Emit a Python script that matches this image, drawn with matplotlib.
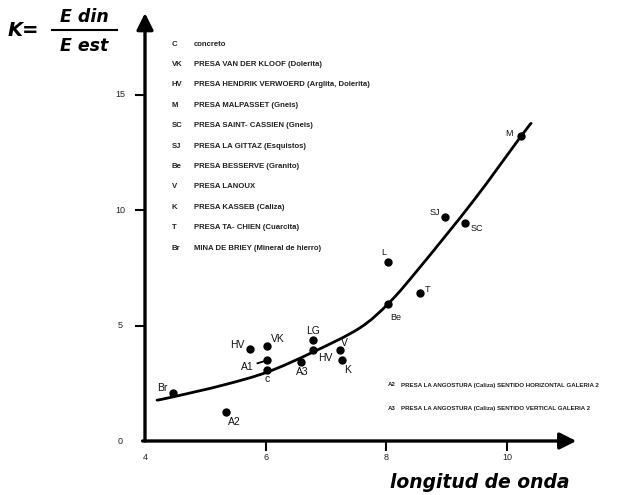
import matplotlib
matplotlib.use("Agg")
import matplotlib.pyplot as plt
from matplotlib.path import Path
from matplotlib.patches import PathPatch

# ---- data ----
codes = ["Br", "A2", "HV", "VK", "A1", "c", "A3", "LG", "HV", "V", "K",
         "Be", "T", "L", "SJ", "SC", "M"]
wave = [4.46, 5.34, 5.74, 6.03, 6.03, 6.03, 6.58, 6.78, 6.78, 7.24, 7.26,
        8.03, 8.56, 8.03, 8.98, 9.31, 10.23]
kval = [2.08, 1.26, 3.98, 4.11, 3.50, 3.07, 3.42, 4.37, 3.94, 3.94, 3.50,
        5.93, 6.40, 7.75, 9.70, 9.44, 13.2]

curve_x = [4.2, 4.46, 5.29, 6.03, 6.78, 7.56, 8.06, 8.56, 9.44, 10.23, 10.4]
curve_y = [1.77, 1.91, 2.42, 2.99, 3.85, 4.90, 6.03, 7.54, 10.40, 13.2, 13.77]

xticks = [4, 6, 8, 10]
yticks = [0, 5, 10, 15]

legend_codes = ["C", "VK", "HV", "M", "SC", "SJ", "Be", "V", "K", "T", "Br"]
legend_names = ["concreto",
                "PRESA VAN DER KLOOF (Dolerita)",
                "PRESA HENDRIK VERWOERD (Arglita, Dolerita)",
                "PRESA MALPASSET (Gneis)",
                "PRESA SAINT- CASSIEN (Gneis)",
                "PRESA LA GITTAZ (Esquistos)",
                "PRESA BESSERVE (Granito)",
                "PRESA LANOUX",
                "PRESA KASSEB (Caliza)",
                "PRESA TA- CHIEN (Cuarcita)",
                "MINA DE BRIEY (Mineral de hierro)"]
a_codes = ["A2", "A3"]
a_names = ["PRESA LA ANGOSTURA (Caliza) SENTIDO HORIZONTAL GALERIA 2",
           "PRESA LA ANGOSTURA (Caliza) SENTIDO VERTICAL GALERIA 2"]

# ---- figure ----
W, H = 623, 495
fig = plt.figure(figsize=(W / 100, H / 100), dpi=100)
px_x0, sx = 145, 60.33
px_y0, sy = 441, 23.07
right_px, top_px = 610, 5
ax = fig.add_axes([px_x0 / W, (H - px_y0) / H, (right_px - px_x0) / W, (px_y0 - top_px) / H])
ax.set_xlim(4, 4 + (right_px - px_x0) / sx)
ax.set_ylim(0, (px_y0 - top_px) / sy)
ax.axis("off")

# axes arrows
ax.annotate("", xy=(4, 18.55), xytext=(4, 0), xycoords="data",
            arrowprops=dict(arrowstyle="-|>,head_length=1.0,head_width=0.5",
                            lw=2.4, color="black", shrinkA=0, shrinkB=0),
            annotation_clip=False)
ax.annotate("", xy=(11.15, 0), xytext=(3.96, 0), xycoords="data",
            arrowprops=dict(arrowstyle="-|>,head_length=1.0,head_width=0.5",
                            lw=2.4, color="black", shrinkA=0, shrinkB=0),
            annotation_clip=False)

# ticks
for yt in yticks:
    if yt > 0:
        ax.plot([4 - 9 / sx, 4 - 2 / sx], [yt, yt], color="black", lw=1.5, clip_on=False)
    ax.text(4 - 25 / sx, yt, str(yt), ha="center", va="center", fontsize=6.5,
            family="Liberation Sans", color="#222222")
for xt in xticks:
    if xt > 4:
        ax.plot([xt, xt], [0, -9 / sy], color="black", lw=1.5, clip_on=False)
    ax.text(xt, -17 / sy, str(xt), ha="center", va="center", fontsize=6.5,
            family="Liberation Sans", color="#222222")

# smooth curve through the nodes (Catmull-Rom as cubic Bezier segments)
verts = [(curve_x[0], curve_y[0])]
cmds = [Path.MOVETO]
n = len(curve_x)
for i in range(n - 1):
    p0 = (curve_x[max(i - 1, 0)], curve_y[max(i - 1, 0)])
    p1 = (curve_x[i], curve_y[i])
    p2 = (curve_x[i + 1], curve_y[i + 1])
    p3 = (curve_x[min(i + 2, n - 1)], curve_y[min(i + 2, n - 1)])
    c1 = (p1[0] + (p2[0] - p0[0]) / 6, p1[1] + (p2[1] - p0[1]) / 6)
    c2 = (p2[0] - (p3[0] - p1[0]) / 6, p2[1] - (p3[1] - p1[1]) / 6)
    verts += [c1, c2, p2]
    cmds += [Path.CURVE4] * 3
ax.add_patch(PathPatch(Path(verts, cmds), fill=False, lw=2.0, edgecolor="black",
                       capstyle="round"))

# points
ax.plot(wave, kval, "o", color="black", ms=5)

# labels (offsets in pixels: dx right, dy down)
offsets = {0: (-10, -5), 1: (9, 10), 2: (-13, -4), 3: (10, -7), 4: (-20, 7),
           5: (0, 9), 6: (2, 10), 7: (0, -9), 8: (13, 8), 9: (4, -7),
           10: (6, 10), 11: (8, 13), 12: (7, -4), 13: (-4, -10), 14: (-11, -5),
           15: (11, 5), 16: (-12, -3)}
for i, (c, xv, yv) in enumerate(zip(codes, wave, kval)):
    dx, dy = offsets[i]
    big = i <= 10
    ax.annotate(c, (xv, yv), xytext=(dx * 0.72, -dy * 0.72), textcoords="offset points",
                ha="center", va="center", fontsize=7.5 if big else 6.5,
                family="Liberation Sans", color="#111111")
# A1 connector
ax.plot([wave[4] - 10 / sx, wave[4]], [kval[4] - 3 / sy, kval[4]], color="black", lw=1.3)

# legend text block
leg_top = 44
for i, (c, nm) in enumerate(zip(legend_codes, legend_names)):
    ypx = leg_top + i * 20.4
    fig.text(172 / W, 1 - ypx / H, c, fontsize=5.6, weight="bold",
             family="Liberation Sans", va="center", ha="left", color="#222222")
    fig.text(194 / W, 1 - ypx / H, nm, fontsize=5.6, weight="bold",
             family="Liberation Sans", va="center", ha="left", color="#222222")

for i, (c, nm) in enumerate(zip(a_codes, a_names)):
    ypx = 385 + i * 23.5
    fig.text(388 / W, 1 - ypx / H, c, fontsize=4.4, weight="bold",
             family="Liberation Sans", va="center", ha="left", color="#222222")
    fig.text(401 / W, 1 - ypx / H, nm, fontsize=4.4, weight="bold",
             family="Liberation Sans", va="center", ha="left", color="#222222")

# formula
fig.text(8 / W, 1 - 30 / H, "K=", fontsize=14, weight="heavy", style="italic",
         family="DejaVu Sans", va="center", ha="left")
fig.text(84 / W, 1 - 17 / H, "E din", fontsize=12.5, weight="heavy", style="italic",
         family="DejaVu Sans", va="center", ha="center")
fig.text(84 / W, 1 - 46 / H, "E est", fontsize=12.5, weight="heavy", style="italic",
         family="DejaVu Sans", va="center", ha="center")
fig.add_artist(plt.Line2D([52 / W, 117 / W], [1 - 30 / H, 1 - 30 / H], color="black", lw=1.5))

# x label
fig.text(480 / W, 1 - 483 / H, "longitud de onda", fontsize=13.5, weight="heavy",
         style="italic", family="DejaVu Sans", va="center", ha="center")

fig.savefig("out.png", dpi=100)
